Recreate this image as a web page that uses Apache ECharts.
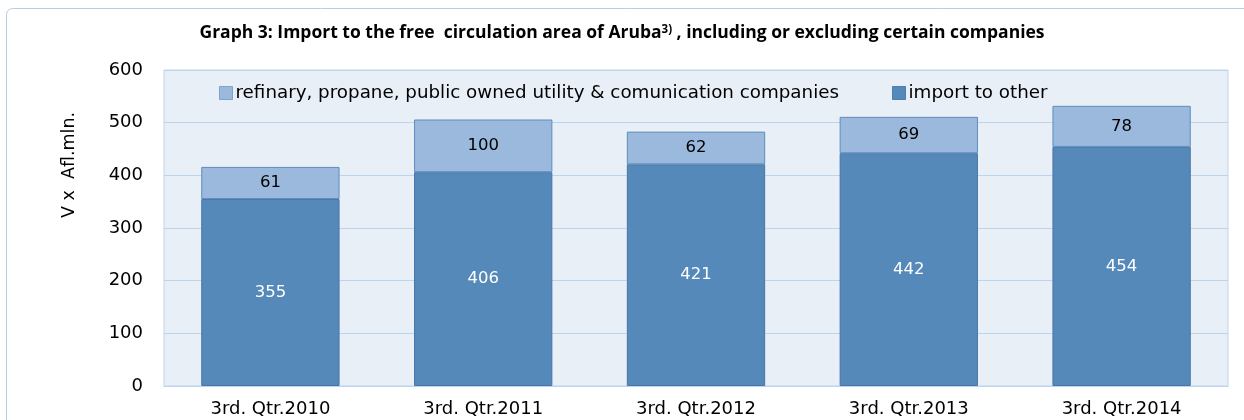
<!DOCTYPE html>
<html>
<head>
<meta charset="utf-8">
<script src="https://cdn.jsdelivr.net/npm/echarts@6/dist/echarts.min.js"></script>
<style>
html,body{margin:0;padding:0;background:#fff;}
#chart{width:1244px;height:420px;}
</style>
</head>
<body>
<div id="chart"></div>
<script>
const categories = ['3rd. Qtr.2010','3rd. Qtr.2011','3rd. Qtr.2012','3rd. Qtr.2013','3rd. Qtr.2014'];
const importOther = [355, 406, 421, 442, 454];
const refinary = [61, 100, 62, 69, 78];
const seriesNames = ['refinary, propane, public owned utility & comunication companies', 'import to other'];
const yTicks = {min: 0, max: 600, interval: 100};
const yAxisTitle = 'V x  Afl.mln.';

const chart = echarts.init(document.getElementById('chart'), null, {renderer: 'canvas'});
const fontMain = '"DejaVu Sans", Verdana, sans-serif';
const fontTitle = '"Open Sans", sans-serif';
chart.setOption({
  backgroundColor: '#ffffff',
  animation: false,
  graphic: [{
    type: 'rect',
    shape: {x: 6.5, y: 8.5, width: 1270, height: 440, r: 6},
    style: {fill: 'none', stroke: '#B8CCE4', lineWidth: 1},
    z: -1
  }, {
    type: 'text',
    x: 69, y: 165,
    rotation: Math.PI / 2,
    style: {text: yAxisTitle, fontFamily: fontMain, fontSize: 17.5, fill: '#000', align: 'center', verticalAlign: 'middle'}
  }],
  title: {
    left: 'center',
    top: 19,
    text: '{b|Graph 3: Import to the free  circulation area of Aruba}{s|3)}{b| , including or excluding certain companies}',
    textStyle: {
      rich: {
        b: {fontFamily: fontTitle, fontWeight: 'bold', fontSize: 17.5, color: '#000'},
        s: {fontFamily: fontTitle, fontWeight: 'bold', fontSize: 11.5, color: '#000', verticalAlign: 'top', padding: [0,0,7,0]}
      }
    }
  },
  legend: {
    top: 79,
    left: 214,
    itemGap: 53,
    itemWidth: 13,
    itemHeight: 13,
    icon: 'rect',
    textStyle: {fontFamily: fontMain, fontSize: 18.3, color: '#000', padding: [0,0,0,-2]},
    data: [
      {name: seriesNames[0], itemStyle: {borderColor: '#7FA3CE', borderWidth: 1}},
      {name: seriesNames[1], itemStyle: {borderColor: '#4A7DB0', borderWidth: 1}}
    ]
  },
  grid: {left: 164, right: 16, top: 70, bottom: 34, show: true, backgroundColor: '#E9EFF7', borderColor: '#BDD5EC', borderWidth: 1},
  xAxis: {
    type: 'category',
    data: categories,
    axisLine: {show: true, lineStyle: {color: '#BDD5EC'}},
    axisTick: {show: false},
    axisLabel: {fontFamily: fontMain, fontSize: 18, color: '#000', margin: 14}
  },
  yAxis: {
    type: 'value',
    min: yTicks.min, max: yTicks.max, interval: yTicks.interval,
    axisLine: {show: false},
    axisTick: {show: false},
    axisLabel: {fontFamily: fontMain, fontSize: 18, color: '#000', margin: 21},
    splitLine: {lineStyle: {color: '#BDD5EC', width: 1}}
  },
  series: [
    {
      name: seriesNames[1],
      type: 'bar',
      stack: 'total',
      data: importOther,
      barCategoryGap: '35%',
      itemStyle: {color: '#5589BA', borderColor: '#4677A8', borderWidth: 1},
      label: {show: true, position: 'inside', color: '#fff', fontFamily: fontMain, fontSize: 16.5}
    },
    {
      name: seriesNames[0],
      type: 'bar',
      stack: 'total',
      data: refinary,
      barCategoryGap: '35%',
      itemStyle: {color: '#9AB9DD', borderColor: '#5F8DBD', borderWidth: 1},
      label: {show: true, position: 'inside', color: '#000', fontFamily: fontMain, fontSize: 16.5}
    }
  ]
});
</script>
</body>
</html>
